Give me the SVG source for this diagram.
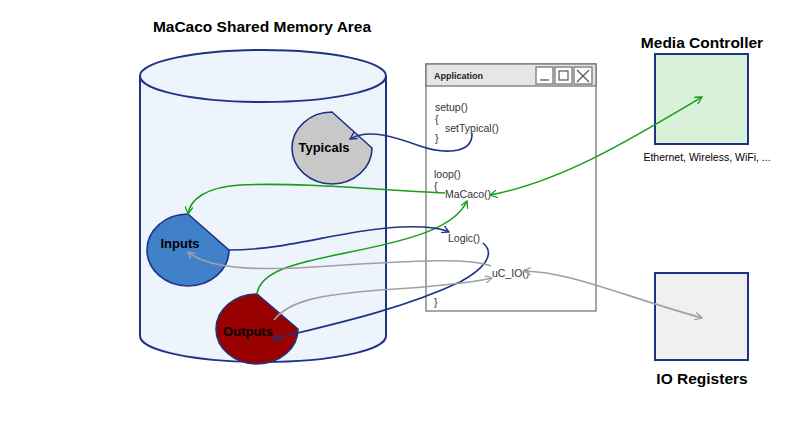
<svg xmlns="http://www.w3.org/2000/svg" width="800" height="438" viewBox="0 0 800 438">
<defs>
<style>
.title{font-family:"Liberation Sans",Arial,sans-serif;font-weight:bold;font-size:15.5px;fill:#000}
.lbl{font-family:"Liberation Sans",Arial,sans-serif;font-weight:bold;font-size:13px;fill:#000}
.code{font-family:"Liberation Sans",Arial,sans-serif;font-size:10.5px;fill:#333}
.small{font-family:"Liberation Sans",Arial,sans-serif;font-size:10.5px;fill:#000}
.navy{stroke:#1f3385;stroke-width:1.6;fill:none}
.green{stroke:#1a9e1a;stroke-width:1.6;fill:none}
.gray{stroke:#a0a0a0;stroke-width:1.6;fill:none}
.win{stroke:#777;stroke-width:1.3}
</style>
<marker id="an" viewBox="0 0 10 10" refX="9" refY="5" markerWidth="8" markerHeight="8" orient="auto-start-reverse" markerUnits="userSpaceOnUse"><path d="M0,0 L9,5 L0,10" fill="none" stroke="#1f3385" stroke-width="1.6"/></marker>
<marker id="ag" viewBox="0 0 10 10" refX="9" refY="5" markerWidth="8" markerHeight="8" orient="auto-start-reverse" markerUnits="userSpaceOnUse"><path d="M0,0 L9,5 L0,10" fill="none" stroke="#1a9e1a" stroke-width="1.6"/></marker>
<marker id="ay" viewBox="0 0 10 10" refX="9" refY="5" markerWidth="8" markerHeight="8" orient="auto-start-reverse" markerUnits="userSpaceOnUse"><path d="M0,0 L9,5 L0,10" fill="none" stroke="#a0a0a0" stroke-width="1.6"/></marker>
</defs>
<rect width="800" height="438" fill="#fff"/>

<g id="memory">
<text class="title" x="262" y="32" text-anchor="middle">MaCaco Shared Memory Area</text>
<path d="M140,76 L140,336 A123,26 0 0 0 386,336 L386,76" fill="#eef4fc" stroke="#1f3385" stroke-width="2"/>
<ellipse cx="263" cy="76" rx="123" ry="26" fill="#eef4fc" stroke="#1f3385" stroke-width="2"/>
</g>

<g id="typicals">
<path d="M332,112 L372,148 A40,36 0 1 1 332,112 Z" fill="#c8c8c8" stroke="#1f3385" stroke-width="1.6"/>
<text class="lbl" x="324" y="152" text-anchor="middle">Typicals</text>
</g>

<g id="inputs">
<path d="M188,214 L229,250 A41,36 0 1 1 188,214 Z" fill="#4080c8" stroke="#1f3385" stroke-width="1.6"/>
<text class="lbl" x="180" y="248" text-anchor="middle">Inputs</text>
</g>

<g id="outputs">
<path d="M257,294 L298,329 A41,35 0 1 1 257,294 Z" fill="#990000" stroke="#1f3385" stroke-width="1.6"/>
<text class="lbl" x="248" y="336" text-anchor="middle">Outputs</text>
</g>

<g id="application">
<rect x="426" y="64" width="170" height="247" fill="#fff" class="win"/>
<rect x="426" y="64" width="170" height="22" fill="#e6e6e6" class="win"/>
<rect x="536" y="67" width="17" height="17" fill="#fff" class="win"/>
<rect x="555" y="67" width="17" height="17" fill="#fff" class="win"/>
<rect x="574" y="67" width="18" height="17" fill="#fff" class="win"/>
<line x1="540" y1="80" x2="549" y2="80" stroke="#555" stroke-width="1.3"/>
<rect x="559" y="71" width="9" height="9" fill="none" stroke="#555" stroke-width="1.2"/>
<path d="M577,70 L589,82 M589,70 L577,82" stroke="#555" stroke-width="1.2"/>
<text x="434" y="79" style="font-family:'Liberation Sans',Arial,sans-serif;font-weight:bold;font-size:9px;fill:#222">Application</text>
<text class="code" x="435" y="111">setup()</text>
<text class="code" x="435" y="123">{</text>
<text class="code" x="445" y="132">setTypical()</text>
<text class="code" x="435" y="142">}</text>
<text class="code" x="434" y="178">loop()</text>
<text class="code" x="434" y="190">{</text>
<text class="code" x="445" y="198">MaCaco()</text>
<text class="code" x="448" y="242">Logic()</text>
<text class="code" x="492" y="277">uC_IO()</text>
<text class="code" x="434" y="306">}</text>
</g>

<g id="media">
<text class="title" x="702" y="48" text-anchor="middle">Media Controller</text>
<rect x="655" y="54" width="93" height="90" fill="#d9f0d9" stroke="#1f3385" stroke-width="2"/>
<text class="small" x="707" y="161" text-anchor="middle">Ethernet, Wireless, WiFi, ...</text>
</g>

<g id="ioregs">
<rect x="655" y="273" width="93" height="87" fill="#f0f0f0" stroke="#1f3385" stroke-width="2"/>
<text class="title" x="702" y="384" text-anchor="middle">IO Registers</text>
</g>

<g id="connectors">
<path class="navy" d="M472,133 C473,156 440,153 420,146 C395,137 368,128 350,139" marker-end="url(#an)"/>
<path class="green" d="M490,195 C560,182 630,140 702,97" marker-start="url(#ag)" marker-end="url(#ag)"/>
<path class="green" d="M445,193 C380,190 300,182 240,185 C205,187 190,200 188,214" marker-end="url(#ag)"/>
<path class="green" d="M257,294 C260,270 300,262 350,252 C410,240 455,228 467,201" marker-end="url(#ag)"/>
<path class="navy" d="M229,250 C290,250 340,230 400,227 C425,226 440,228 449,232" marker-end="url(#an)"/>
<path class="navy" d="M483,243 C497,255 482,270 460,282 C400,310 330,325 273,339" marker-end="url(#an)"/>
<path class="gray" d="M491,266 C470,258 420,260 330,266 C260,271 210,270 188,252" marker-end="url(#ay)"/>
<path class="gray" d="M274,320 C290,300 320,295 380,290 C430,287 470,283 492,278" marker-end="url(#ay)"/>
<path class="gray" d="M524,271 C570,272 620,295 702,318" marker-start="url(#ay)" marker-end="url(#ay)"/>
</g>
</svg>
